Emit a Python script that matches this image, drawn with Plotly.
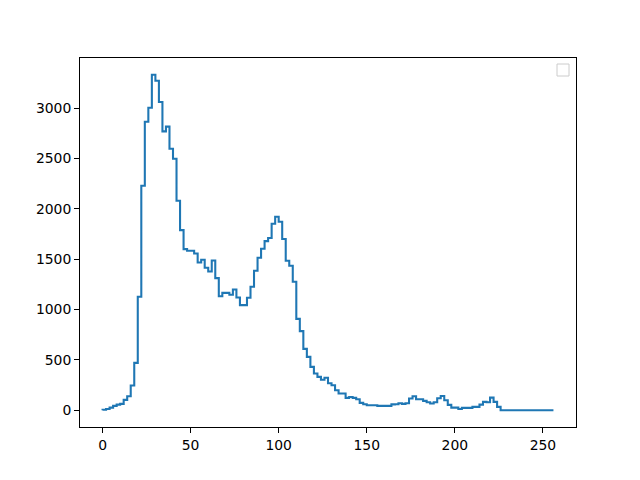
import numpy as np
import plotly.graph_objects as go

bin_width = 2
n_bins = 128
counts = [
    5, 13, 26, 43, 56, 63, 103, 139, 245, 470,
    1126, 2228, 2864, 3003, 3330, 3271, 3060, 2768, 2815, 2596,
    2497, 2080, 1788, 1599, 1583, 1583, 1556, 1467, 1493, 1414,
    1377, 1486, 1311, 1132, 1165, 1165, 1146, 1199, 1119, 1043,
    1043, 1116, 1225, 1384, 1513, 1603, 1679, 1710, 1851, 1921,
    1871, 1699, 1484, 1434, 1275, 907, 785, 609, 530, 430,
    364, 331, 302, 322, 268, 248, 199, 166, 166, 123,
    132, 123, 109, 73, 60, 50, 50, 50, 43, 43,
    43, 43, 58, 60, 70, 63, 70, 116, 139, 109,
    109, 93, 79, 66, 80, 119, 142, 99, 53, 26,
    26, 13, 23, 23, 23, 33, 33, 56, 83, 79,
    125, 83, 33, 0, 0, 0, 0, 0, 0, 0,
    0, 0, 0, 0, 0, 0, 0, 0,
]
x_ticks = [0, 50, 100, 150, 200, 250]
y_ticks = [0, 500, 1000, 1500, 2000, 2500, 3000]

edges = np.arange(n_bins + 1) * bin_width
xs = [edges[0]] + list(edges)
ys = [0] + list(counts) + [0]

xmin, xmax = edges[0], edges[-1]
ymax = max(counts)
xpad = 0.05 * (xmax - xmin)
ypad = 0.05 * ymax

fig = go.Figure()
fig.add_trace(go.Scatter(
    x=xs, y=ys, mode="lines", line_shape="hv",
    line=dict(color="#1f77b4", width=2.08), showlegend=False,
    hoverinfo="skip",
))

W, H = 640, 480
# page body has an 8px default margin; compensate so the axes land at 80..576 x 58..427
L, R, T, B = 72, 72, 50, 61
fig.update_layout(
    width=W, height=H,
    margin=dict(l=L, r=R, t=T, b=B, pad=0),
    paper_bgcolor="white", plot_bgcolor="white",
    font=dict(family="DejaVu Sans", size=13.9, color="black"),
    showlegend=False,
)
axis_common = dict(
    showgrid=False, zeroline=False, showline=True, linecolor="black",
    linewidth=1.1, mirror=True, ticks="outside", ticklen=4.9, tickwidth=1.1,
    tickcolor="black",
)
fig.update_xaxes(range=[xmin - xpad, xmax + xpad], tickvals=x_ticks,
                 ticktext=[str(v) for v in x_ticks], **axis_common)
fig.update_yaxes(range=[-ypad, ymax + ypad], tickvals=y_ticks,
                 ticktext=[str(v) for v in y_ticks], **axis_common)

# empty legend box (top-right), like matplotlib's empty legend
pw, ph = W - L - R, H - T - B
fig.add_shape(type="rect", xref="paper", yref="paper",
              x0=(557 - 80) / pw, x1=(569 - 80) / pw,
              y0=(427 - 76) / ph, y1=(427 - 64) / ph,
              line=dict(color="#cccccc", width=1), fillcolor="white")

fig.write_html("out.html")
